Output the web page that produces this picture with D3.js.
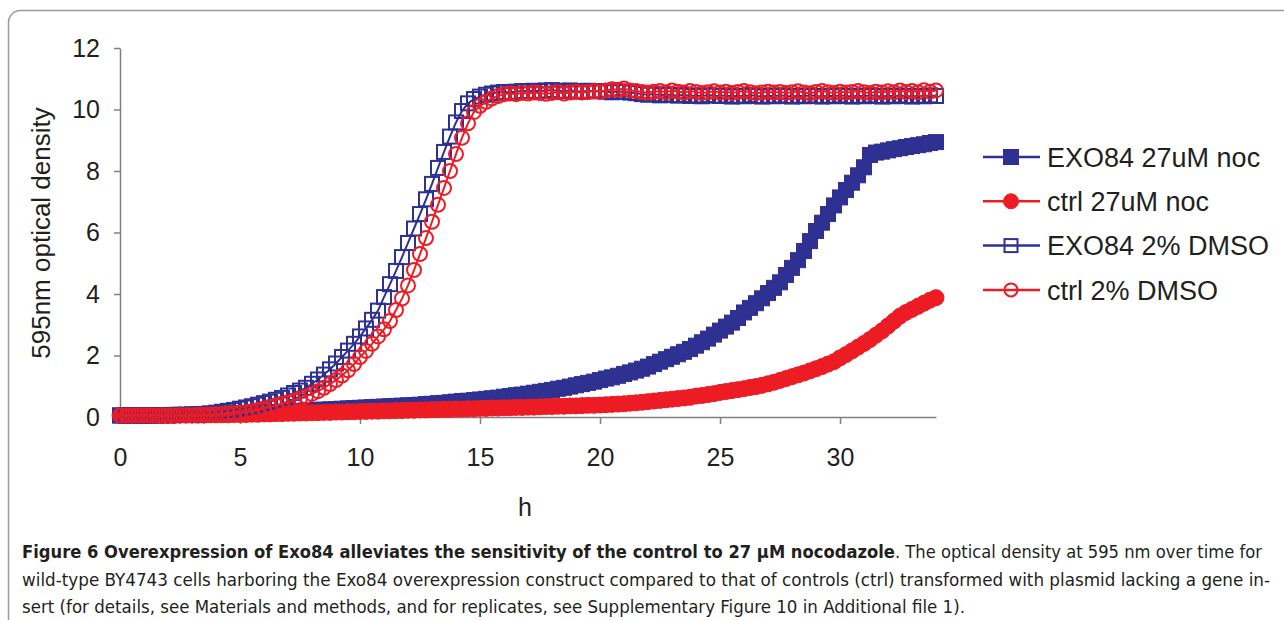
<!DOCTYPE html>
<html>
<head>
<meta charset="utf-8">
<script src="https://cdn.jsdelivr.net/npm/d3@7"></script>
<style>
  html, body { margin: 0; padding: 0; background: #fff; }
  svg { display: block; }
</style>
</head>
<body>
<svg id="chart" width="1284" height="620"></svg>
<script>
// readings every 15 min, 0..34 h
const hours = d3.range(0, 34.001, 0.25);

const seriesNames = ['EXO84 27uM noc', 'ctrl 27uM noc', 'EXO84 2% DMSO', 'ctrl 2% DMSO'];

const exoNoc = [
  0.05, 0.05, 0.05, 0.05,  0.05, 0.05, 0.06, 0.06,  0.06, 0.07, 0.07, 0.07,
  0.08, 0.08, 0.09, 0.09,  0.10, 0.10, 0.11, 0.12,  0.12, 0.13, 0.13, 0.14,
  0.15, 0.15, 0.16, 0.17,  0.18, 0.19, 0.20, 0.21,  0.22, 0.23, 0.24, 0.25,
  0.26, 0.27, 0.28, 0.29,  0.30, 0.31, 0.32, 0.33,  0.34, 0.35, 0.36, 0.37,
  0.38, 0.39, 0.40, 0.42,  0.43, 0.45, 0.46, 0.48,  0.50, 0.52, 0.53, 0.55,
  0.57, 0.59, 0.61, 0.63,  0.66, 0.68, 0.71, 0.73,  0.76, 0.79, 0.82, 0.85,
  0.88, 0.92, 0.95, 0.99,  1.03, 1.07, 1.11, 1.15,  1.20, 1.25, 1.29, 1.34,
  1.40, 1.45, 1.51, 1.57,  1.64, 1.72, 1.80, 1.88,  1.96, 2.04, 2.12, 2.21,
  2.32, 2.43, 2.55, 2.68,  2.81, 2.94, 3.07, 3.22,  3.40, 3.55, 3.70, 3.86,
  4.03, 4.20, 4.38, 4.62,  4.85, 5.10, 5.40, 5.72,  6.05, 6.32, 6.60, 6.88,
  7.14, 7.38, 7.62, 7.86,  8.12, 8.52, 8.60, 8.63,  8.67, 8.71, 8.74, 8.78,
  8.81, 8.84, 8.87, 8.91,  8.94
];

const ctrlNoc = [
  0.05, 0.05, 0.05, 0.05,  0.05, 0.05, 0.05, 0.05,  0.05, 0.05, 0.06, 0.06,
  0.06, 0.06, 0.06, 0.07,  0.07, 0.07, 0.07, 0.08,  0.08, 0.08, 0.09, 0.09,
  0.10, 0.10, 0.11, 0.11,  0.12, 0.12, 0.13, 0.13,  0.14, 0.14, 0.15, 0.15,
  0.16, 0.16, 0.17, 0.17,  0.18, 0.18, 0.19, 0.19,  0.20, 0.20, 0.21, 0.21,
  0.22, 0.22, 0.23, 0.23,  0.24, 0.24, 0.25, 0.25,  0.26, 0.26, 0.27, 0.27,
  0.28, 0.28, 0.29, 0.29,  0.30, 0.30, 0.31, 0.31,  0.32, 0.32, 0.33, 0.34,
  0.34, 0.35, 0.35, 0.36,  0.36, 0.37, 0.38, 0.38,  0.39, 0.40, 0.41, 0.42,
  0.43, 0.45, 0.46, 0.48,  0.50, 0.52, 0.54, 0.56,  0.58, 0.60, 0.62, 0.64,
  0.68, 0.70, 0.73, 0.76,  0.80, 0.83, 0.86, 0.89,  0.92, 0.96, 0.99, 1.03,
  1.08, 1.13, 1.19, 1.25,  1.31, 1.37, 1.43, 1.50,  1.57, 1.64, 1.72, 1.80,
  1.92, 2.03, 2.15, 2.27,  2.39, 2.52, 2.66, 2.80,  2.96, 3.12, 3.28, 3.40,
  3.50, 3.60, 3.70, 3.80,  3.88
];

const exoDmso = [
  0.05, 0.05, 0.05, 0.05,  0.05, 0.05, 0.05, 0.06,  0.06, 0.06, 0.07, 0.07,
  0.08, 0.09, 0.10, 0.12,  0.14, 0.17, 0.20, 0.23,  0.27, 0.31, 0.35, 0.40,
  0.45, 0.50, 0.56, 0.62,  0.70, 0.78, 0.86, 0.95,  1.08, 1.22, 1.38, 1.55,
  1.74, 1.95, 2.16, 2.38,  2.62, 2.88, 3.16, 3.46,  3.90, 4.32, 4.75, 5.20,
  5.66, 6.13, 6.60, 7.08,  7.58, 8.10, 8.62, 9.12,  9.58, 9.95, 10.20, 10.34,
  10.42, 10.48, 10.52, 10.55,  10.57, 10.56, 10.58, 10.60,  10.59, 10.61, 10.60, 10.62,
  10.63, 10.61, 10.60, 10.62,  10.60, 10.58, 10.61, 10.59,  10.60, 10.58, 10.56, 10.59,
  10.57, 10.55, 10.53, 10.50,  10.48, 10.50, 10.46, 10.49,  10.47, 10.45, 10.48, 10.44,
  10.46, 10.43, 10.47, 10.45,  10.44, 10.46, 10.42, 10.45,  10.43, 10.47, 10.44, 10.42,
  10.45, 10.43, 10.46, 10.44,  10.42, 10.45, 10.43, 10.46,  10.44, 10.42, 10.45, 10.43,
  10.46, 10.44, 10.42, 10.45,  10.43, 10.46, 10.44, 10.42,  10.45, 10.43, 10.46, 10.44,
  10.42, 10.45, 10.43, 10.46,  10.44
];

const ctrlDmso = [
  0.05, 0.05, 0.05, 0.05,  0.05, 0.05, 0.05, 0.05,  0.05, 0.05, 0.06, 0.06,
  0.06, 0.07, 0.07, 0.08,  0.09, 0.10, 0.11, 0.12,  0.14, 0.16, 0.19, 0.23,
  0.28, 0.33, 0.38, 0.43,  0.48, 0.54, 0.60, 0.67,  0.75, 0.84, 0.95, 1.07,
  1.20, 1.35, 1.52, 1.72,  1.95, 2.15, 2.38, 2.62,  2.85, 3.12, 3.48, 3.85,
  4.28, 4.78, 5.30, 5.82,  6.35, 6.90, 7.45, 8.00,  8.55, 9.08, 9.55, 9.92,
  10.12, 10.25, 10.36, 10.44,  10.50, 10.52, 10.50, 10.54,  10.52, 10.55, 10.53, 10.51,
  10.54, 10.56, 10.52, 10.55,  10.58, 10.55, 10.57, 10.60,  10.58, 10.62, 10.66, 10.64,
  10.68, 10.62, 10.60, 10.57,  10.55, 10.58, 10.60, 10.56,  10.62, 10.58, 10.55, 10.60,
  10.57, 10.54, 10.56, 10.59,  10.55, 10.58, 10.54, 10.57,  10.60, 10.56, 10.53, 10.55,
  10.58, 10.55, 10.57, 10.54,  10.56, 10.59, 10.55, 10.53,  10.57, 10.60, 10.56, 10.54,
  10.58, 10.55, 10.57, 10.60,  10.56, 10.54, 10.58, 10.55,  10.59, 10.56, 10.62, 10.57,
  10.60, 10.56, 10.63, 10.58,  10.62
];

const xTicks = [0, 5, 10, 15, 20, 25, 30];
const yTicks = [0, 2, 4, 6, 8, 10, 12];

const BLUE = '#2e3192';
const RED = '#ed1c24';
const AXIS_GREY = '#808080';
const TEXT = '#231f20';

const series = [
  { name: seriesNames[0], values: exoNoc, color: BLUE, shape: 'square', filled: true },
  { name: seriesNames[1], values: ctrlNoc, color: RED, shape: 'circle', filled: true },
  { name: seriesNames[2], values: exoDmso, color: BLUE, shape: 'square', filled: false },
  { name: seriesNames[3], values: ctrlDmso, color: RED, shape: 'circle', filled: false },
];

const svg = d3.select('#chart');

// rounded frame round the figure
svg.append('rect')
  .attr('x', 8.5).attr('y', 10.5)
  .attr('width', 1400).attr('height', 800)
  .attr('rx', 12)
  .attr('fill', 'none')
  .attr('stroke', '#9a9a9a')
  .attr('stroke-width', 1.5);

const x = d3.scaleLinear().domain([0, 34]).range([120, 936]);
const y = d3.scaleLinear().domain([0, 12]).range([417, 48]);

// axes
const yAxis = svg.append('g')
  .attr('transform', `translate(${x(0)},0)`)
  .call(d3.axisLeft(y).tickValues(yTicks).tickSize(6).tickSizeOuter(0).tickPadding(14));
const xAxis = svg.append('g')
  .attr('transform', `translate(0,${y(0)})`)
  .call(d3.axisBottom(x).tickValues(xTicks).tickSize(7).tickSizeOuter(0).tickPadding(24));

[xAxis, yAxis].forEach(g => {
  g.select('.domain').attr('stroke', AXIS_GREY).attr('stroke-width', 1.5);
  g.selectAll('.tick line').attr('stroke', AXIS_GREY).attr('stroke-width', 1.5);
  g.selectAll('.tick text')
    .attr('fill', TEXT)
    .style('font-family', '"Liberation Sans", Arial, sans-serif')
    .style('font-size', '25px');
});

// axis titles
svg.append('text')
  .attr('transform', `translate(50,233) rotate(-90)`)
  .attr('text-anchor', 'middle')
  .attr('fill', TEXT)
  .style('font-family', '"Liberation Sans", Arial, sans-serif')
  .style('font-size', '26px')
  .text('595nm optical density');

svg.append('text')
  .attr('x', 525).attr('y', 516)
  .attr('text-anchor', 'middle')
  .attr('fill', TEXT)
  .style('font-family', '"Liberation Sans", Arial, sans-serif')
  .style('font-size', '25px')
  .text('h');

// series: line, then markers, in Excel order
const line = d3.line()
  .x((d, i) => x(hours[i]))
  .y(d => y(d));

function drawMarker(sel, s, size) {
  if (s.shape === 'square') {
    sel.append('rect')
      .attr('x', -size / 2).attr('y', -size / 2)
      .attr('width', size).attr('height', size)
      .attr('fill', s.filled ? s.color : 'none')
      .attr('stroke', s.color)
      .attr('stroke-width', s.filled ? 1 : 2);
  } else {
    sel.append('circle')
      .attr('r', size / 2)
      .attr('fill', s.filled ? s.color : 'none')
      .attr('stroke', s.color)
      .attr('stroke-width', s.filled ? 1 : 2);
  }
}

const plot = svg.append('g');
series.forEach(s => {
  const g = plot.append('g');
  g.append('path')
    .datum(s.values)
    .attr('d', line)
    .attr('fill', 'none')
    .attr('stroke', s.color)
    .attr('stroke-width', 2);
  const size = s.filled ? (s.shape === 'square' ? 15 : 16) : 14;
  g.selectAll('g.pt')
    .data(s.values)
    .join('g')
    .attr('class', 'pt')
    .attr('transform', (d, i) => `translate(${x(hours[i])},${y(d)})`)
    .each(function () { drawMarker(d3.select(this), s, size); });
});

// legend
const legend = svg.append('g').attr('transform', 'translate(983,157)');
series.forEach((s, i) => {
  const row = legend.append('g').attr('transform', `translate(0,${i * 44.3})`);
  row.append('line')
    .attr('x1', 0).attr('x2', 57)
    .attr('stroke', s.color).attr('stroke-width', 2.5);
  const m = row.append('g').attr('transform', 'translate(28,0)');
  drawMarker(m, s, s.filled ? 15 : 13);
  row.append('text')
    .attr('x', 64).attr('y', 0).attr('dy', '0.36em')
    .attr('fill', TEXT)
    .style('font-family', '"Liberation Sans", Arial, sans-serif')
    .style('font-size', '27px')
    .text(s.name);
});

// caption: each line is one text, bold runs as tspans
const capFont = '"Liberation Sans Narrow", "DejaVu Sans Condensed", "Liberation Sans", sans-serif';
const caption = [
  { y: 558, len: 1240, parts: [
    { bold: true, text: 'Figure 6 Overexpression of Exo84 alleviates the sensitivity of the control to 27 \u00b5M nocodazole' },
    { bold: false, text: '. The optical density at 595 nm over time for' }] },
  { y: 586, len: 1248, parts: [
    { bold: false, text: 'wild-type BY4743 cells harboring the Exo84 overexpression construct compared to that of controls (ctrl) transformed with plasmid lacking a gene in-' }] },
  { y: 613, len: 943, parts: [
    { bold: false, text: 'sert (for details, see Materials and methods, and for replicates, see Supplementary Figure 10 in Additional file 1).' }] },
];
svg.append('g').selectAll('text')
  .data(caption)
  .join('text')
  .attr('x', 22).attr('y', d => d.y)
  .attr('textLength', d => d.len)
  .attr('lengthAdjust', 'spacingAndGlyphs')
  .attr('fill', TEXT)
  .style('font-family', capFont)
  .style('font-size', '18px')
  .selectAll('tspan')
  .data(d => d.parts)
  .join('tspan')
  .style('font-weight', p => p.bold ? 'bold' : 'normal')
  .text(p => p.text);
</script>
</body>
</html>
